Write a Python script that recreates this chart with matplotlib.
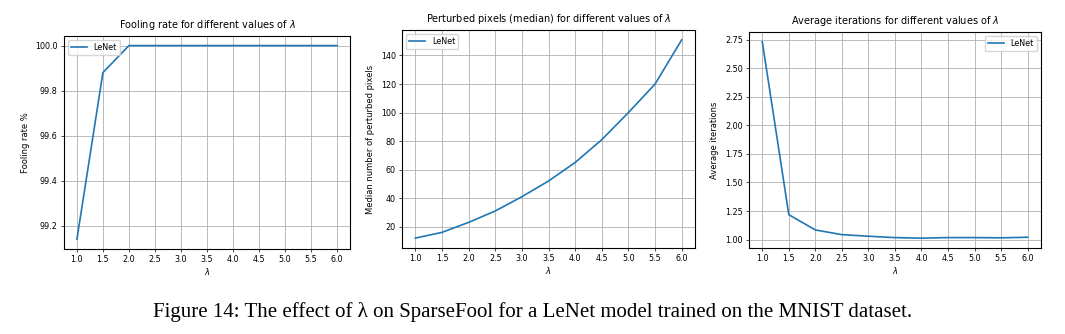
import matplotlib
matplotlib.use("Agg")
import matplotlib.pyplot as plt

lambdas = [1.0, 1.5, 2.0, 2.5, 3.0, 3.5, 4.0, 4.5, 5.0, 5.5, 6.0]
fooling_rate = [99.14, 99.88, 100.0, 100.0, 100.0, 100.0, 100.0, 100.0, 100.0, 100.0, 100.0]
median_pixels = [12, 16, 23, 31, 41, 52, 65, 81, 100, 120, 151]
avg_iterations = [2.733, 1.218, 1.084, 1.043, 1.029, 1.017, 1.012, 1.017, 1.017, 1.015, 1.02]

titles = [r"Fooling rate for different values of $\lambda$",
          r"Perturbed pixels (median) for different values of $\lambda$",
          r"Average iterations for different values of $\lambda$"]
ylabels = ["Fooling rate %", "Median number of perturbed pixels", "Average iterations"]
legend_locs = ["upper left", "upper left", "upper right"]
series = [fooling_rate, median_pixels, avg_iterations]

boxes = [[0.060, 0.2545, 0.2686, 0.638],
         [0.3775, 0.2575, 0.2751, 0.653],
         [0.7033, 0.2575, 0.274, 0.647]]

fig = plt.figure(figsize=(10.65, 3.34), dpi=100)
for box, ys, title, ylabel, loc in zip(boxes, series, titles, ylabels, legend_locs):
    ax = fig.add_axes(box)
    ax.plot(lambdas, ys, color="#1f77b4", linewidth=1.2, label="LeNet")
    ax.set_xticks(lambdas)
    ax.grid(True, color="#b0b0b0", linewidth=0.6)
    ax.set_axisbelow(True)
    ax.set_title(title, fontsize=7)
    ax.set_xlabel(r"$\lambda$", fontsize=6, labelpad=1)
    ax.set_ylabel(ylabel, fontsize=6)
    ax.tick_params(labelsize=5.8, width=0.5, length=2.5, pad=2)
    for s in ax.spines.values():
        s.set_linewidth(0.8)
    ax.legend(loc=loc, fontsize=5.8, frameon=True, fancybox=True)

fig.text(0.5, 0.065, "Figure 14: The effect of λ on SparseFool for a LeNet model trained on the MNIST dataset.",
         ha="center", va="center", fontsize=15, family="Liberation Serif")

fig.savefig("out.png", dpi=100)
